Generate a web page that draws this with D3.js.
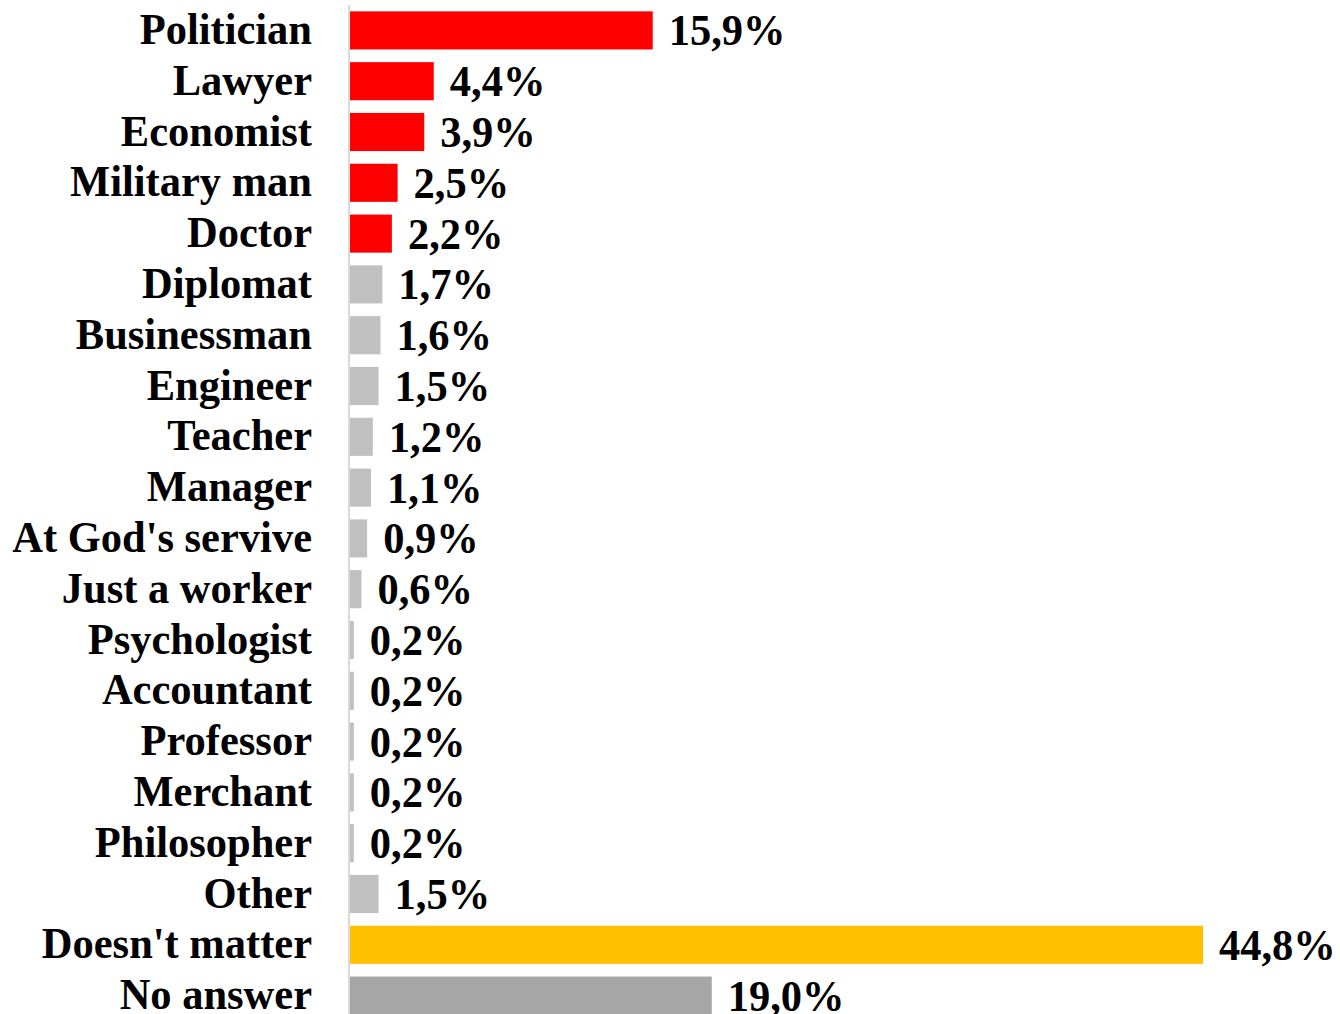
<!DOCTYPE html>
<html><head><meta charset="utf-8">
<script src="https://cdn.jsdelivr.net/npm/d3@7"></script>
<style>body{margin:0;background:#fff}svg{display:block}</style>
</head><body>
<script>
const categories = ["Politician","Lawyer","Economist","Military man","Doctor","Diplomat","Businessman","Engineer","Teacher","Manager","At God's servive","Just a worker","Psychologist","Accountant","Professor","Merchant","Philosopher","Other","Doesn't matter","No answer"];
const values = [15.9,4.4,3.9,2.5,2.2,1.7,1.6,1.5,1.2,1.1,0.9,0.6,0.2,0.2,0.2,0.2,0.2,1.5,44.8,19.0];
const groups = ["top","top","top","top","top","g","g","g","g","g","g","g","g","g","g","g","g","g","dm","na"];
const colors = {top:"#ff0000", g:"#c0c0c0", dm:"#ffc000", na:"#a6a6a6"};

const W = 1340, H = 1014;
const x0 = 350;
const svg = d3.select("body").append("svg").attr("width", W).attr("height", H);
const x = d3.scaleLinear().domain([0, 44.8]).range([x0, 1203]);
const y = d3.scaleBand().domain(categories).range([5, 5 + 50.8*20]).paddingInner(0.25).paddingOuter(0.125);

svg.append("line").attr("x1", 349).attr("x2", 349).attr("y1", 5).attr("y2", H)
  .attr("stroke", "#d9d9d9").attr("stroke-width", 2);

svg.selectAll("rect.bar").data(categories).join("rect")
  .attr("class", "bar")
  .attr("x", x0).attr("y", d => y(d)).attr("height", y.bandwidth())
  .attr("width", (d,i) => x(values[i]) - x0)
  .attr("fill", (d,i) => colors[groups[i]]);

const font = "Liberation Serif";
const sy = 1.06;
svg.selectAll("text.cat").data(categories).join("text")
  .attr("class", "cat")
  .attr("transform", d => `translate(312,${y(d) + y.bandwidth()/2 + 13.5}) scale(1,${sy})`)
  .attr("text-anchor", "end").attr("font-family", font).attr("font-weight", "bold")
  .attr("font-size", 42.5).attr("fill", "#000").text(d => d);

svg.selectAll("text.val").data(categories).join("text")
  .attr("class", "val")
  .attr("transform", (d,i) => `translate(${x(values[i]) + 16},${y(d) + y.bandwidth()/2 + 15}) scale(1,${sy})`)
  .attr("font-family", font).attr("font-weight", "bold")
  .attr("font-size", 42.5).attr("fill", "#000")
  .text((d,i) => values[i].toFixed(1).replace(".", ",") + "%");
</script>
</body></html>
